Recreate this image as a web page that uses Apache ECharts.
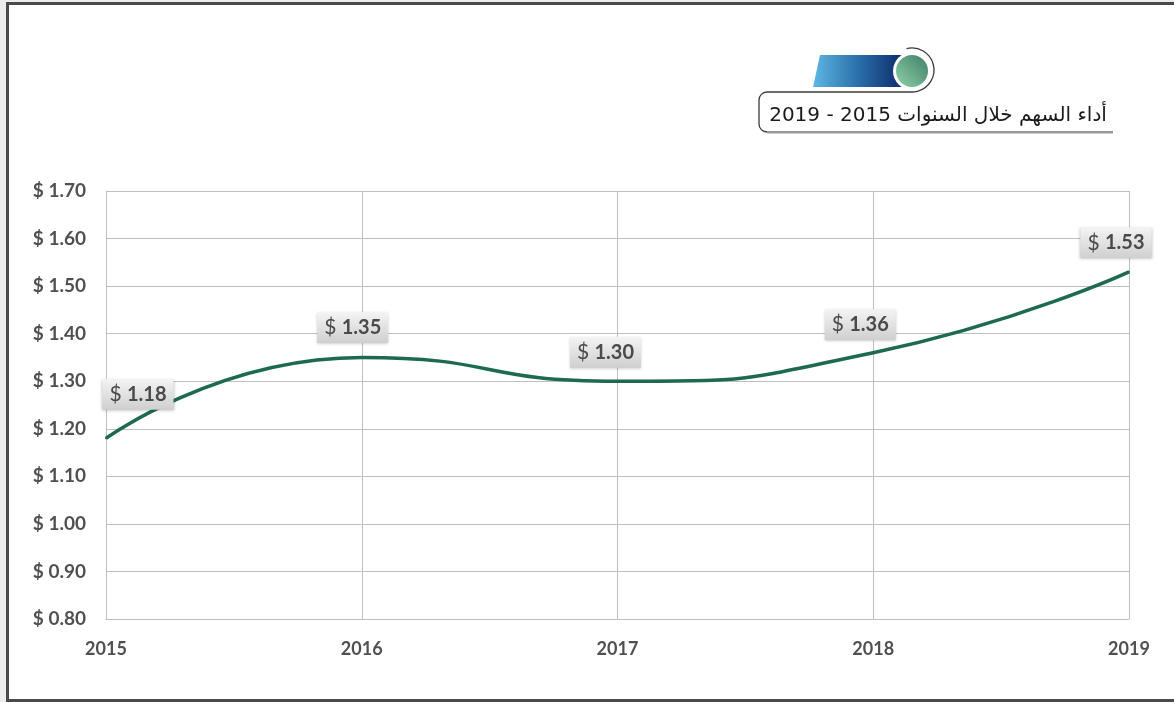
<!DOCTYPE html>
<html>
<head>
<meta charset="utf-8">
<script src="https://cdn.jsdelivr.net/npm/echarts@6/dist/echarts.min.js"></script>
<style>
html,body{margin:0;padding:0;background:#ececec;width:1174px;height:702px;overflow:hidden;}
#frame{position:absolute;left:6px;top:2px;width:1200px;height:700px;box-sizing:border-box;border:3px solid #4a4a4a;background:#fff;}
#chart{position:absolute;left:0;top:0;width:1174px;height:702px;}
</style>
</head>
<body>
<div id="frame"></div>
<div id="chart"></div>
<script>
const titleText = 'أداء السهم خلال السنوات 2015 - 2019';
const years = ['2015', '2016', '2017', '2018', '2019'];
const prices = [1.18, 1.35, 1.30, 1.36, 1.53];
const yMin = 0.8, yMax = 1.7, yStep = 0.1;

const labelOffsets = [[32, -44], [-9, -30], [-12, -29], [-13, -28], [-13, -29]];

const chart = echarts.init(document.getElementById('chart'), null, {renderer: 'canvas'});
const numFont = 'Lato, "Liberation Sans", sans-serif';
const ink = '#3a3a3a';

const option = {
  backgroundColor: 'transparent',
  animation: false,
  grid: {left: 106, right: 45, top: 191, bottom: 83},
  xAxis: {
    type: 'category',
    data: years,
    boundaryGap: false,
    axisLine: {lineStyle: {color: '#bfbfbf', width: 1}},
    axisTick: {show: false},
    axisLabel: {color: '#505050', fontWeight: 'bold', fontSize: 18, fontFamily: numFont, margin: 21},
    splitLine: {show: true, lineStyle: {color: '#bfbfbf', width: 1}}
  },
  yAxis: {
    type: 'value',
    min: yMin, max: yMax, interval: yStep,
    axisLine: {show: true, lineStyle: {color: '#bfbfbf', width: 1}},
    axisTick: {show: false},
    axisLabel: {
      color: '#505050', fontWeight: 'bold', fontSize: 19, fontFamily: numFont, margin: 20,
      formatter: v => '$ ' + v.toFixed(2)
    },
    splitLine: {lineStyle: {color: '#bfbfbf', width: 1}}
  },
  series: [{
    type: 'line',
    smooth: 0.55,
    data: prices.map((v, i) => ({
      value: v,
      label: {offset: labelOffsets[i]}
    })),
    symbol: 'circle',
    symbolSize: 2,
    showSymbol: true,
    itemStyle: {color: '#1d6a4e'},
    lineStyle: {color: '#1d6a4e', width: 3.5},
    label: {
      show: true,
      position: 'inside',
      formatter: p => '{d|$ }{n|' + p.value.toFixed(2) + '}',
      backgroundColor: {
        type: 'linear', x: 0, y: 0, x2: 0, y2: 1,
        colorStops: [{offset: 0, color: '#f4f4f4'}, {offset: 1, color: '#cfcfcf'}]
      },
      shadowBlur: 3,
      shadowColor: 'rgba(0,0,0,0.25)',
      shadowOffsetY: 1,
      padding: [5, 7, 5, 7],
      rich: {
        d: {fontSize: 21, color: '#4a4a4a', fontFamily: numFont, fontWeight: 'normal'},
        n: {fontSize: 20, color: '#4a4a4a', fontFamily: numFont, fontWeight: 'bold'}
      }
    }
  }],
  graphic: [
    {
      type: 'polygon',
      shape: {points: [[820, 55], [903, 55], [903, 87], [813, 87]]},
      style: {
        fill: {
          type: 'linear', x: 0, y: 0, x2: 1, y2: 0,
          colorStops: [{offset: 0, color: '#5db7e3'}, {offset: 0.5, color: '#2b6faa'}, {offset: 1, color: '#0d2a6a'}]
        }
      }
    },
    {type: 'circle', shape: {cx: 912, cy: 71, r: 19}, style: {fill: '#fff'}},
    {
      type: 'circle', shape: {cx: 912, cy: 71, r: 16},
      style: {
        fill: {
          type: 'linear', x: 0, y: 1, x2: 1, y2: 0,
          colorStops: [{offset: 0, color: '#8fd0aa'}, {offset: 1, color: '#3f7f66'}]
        }
      }
    },
    {
      type: 'arc', shape: {cx: 912, cy: 70, r: 22, startAngle: -Math.PI * 0.58, endAngle: Math.PI * 0.5, clockwise: true},
      style: {stroke: ink, lineWidth: 1.3, fill: null}
    },
    {type: 'line', shape: {x1: 912, y1: 92, x2: 767, y2: 92}, style: {stroke: ink, lineWidth: 1.3}},
    {
      type: 'arc', shape: {cx: 767, cy: 100, r: 8, startAngle: Math.PI, endAngle: Math.PI * 1.5, clockwise: true},
      style: {stroke: ink, lineWidth: 1.3, fill: null}
    },
    {type: 'line', shape: {x1: 759, y1: 100, x2: 759, y2: 124}, style: {stroke: ink, lineWidth: 1.3}},
    {
      type: 'arc', shape: {cx: 767, cy: 124, r: 8, startAngle: Math.PI * 0.5, endAngle: Math.PI, clockwise: true},
      style: {stroke: ink, lineWidth: 1.3, fill: null}
    },
    {type: 'rect', shape: {x: 767, y: 131, width: 346, height: 2.5}, style: {fill: '#9a9a9a'}},
    {
      type: 'text',
      x: 938, y: 116,
      style: {
        text: titleText,
        fontFamily: '"DejaVu Sans", sans-serif',
        fontSize: 20,
        fill: '#1a1a1a',
        align: 'center',
        verticalAlign: 'middle'
      }
    }
  ]
};
chart.setOption(option);
</script>
</body>
</html>
